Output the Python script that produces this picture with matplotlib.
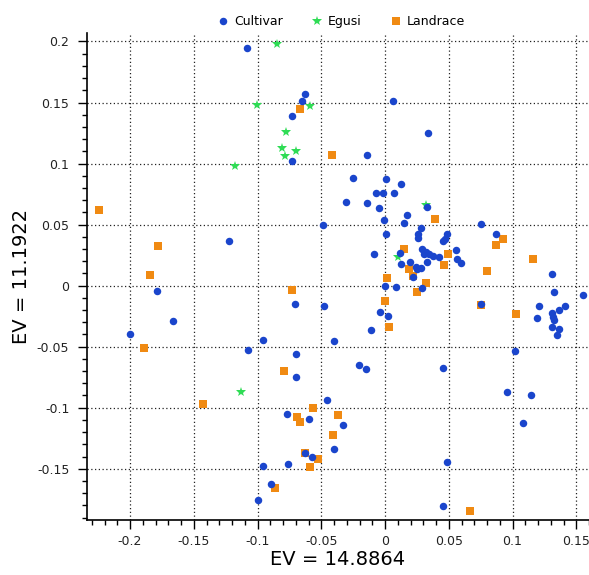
import matplotlib
matplotlib.use("Agg")
import matplotlib.pyplot as plt
from matplotlib.ticker import MultipleLocator, FuncFormatter
from matplotlib.lines import Line2D

# PCA scores (EV1 on x, EV2 on y)
cultivar_x = [-0.108, -0.0627, -0.0648, -0.0732, -0.0732, -0.0486, 0.006, 0.034, -0.0139, -0.0253,
              0.001, 0.0125, -0.0073, -0.0016, 0.0068, -0.0306, -0.0139, -0.0045, 0.033, 0.017,
              -0.0005, 0.015, 0.0755, 0.028, 0.0868, 0.026, 0.0256, 0.049, 0.047, 0.0457,
              0.001, 0.0554, 0.0565, 0.0596, 0.0115, 0.0293, 0.0322, 0.0306, 0.0343, 0.0379,
              0.0426, -0.0084, 0.0193, 0.033, 0.0125, 0.024, 0.0282, 0.0249, 0.0222, 0.131,
              0.0, 0.0086, 0.0288, 0.1328, 0.1555, -0.0478, 0.0755, 0.1207, 0.1414, 0.1367,
              0.131, 0.1315, 0.119, 0.1328, 0.1312, 0.1367, 0.1346, -0.0037, 0.0024, -0.011,
              -0.04, 0.1017, -0.0204, -0.0147, 0.0452, 0.0954, 0.1147, -0.0327, -0.0402, 0.1085,
              0.0489, 0.0452, -0.1221, -0.1785, -0.0703, -0.166, -0.2002, -0.0959, -0.1077, -0.0695,
              -0.0695, -0.0457, -0.0768, -0.0594, -0.0627, -0.057, -0.0959, -0.0758, -0.0891, -0.0993]
cultivar_y = [0.195, 0.157, 0.151, 0.139, 0.102, 0.050, 0.151, 0.125, 0.107, 0.088,
              0.087, 0.0836, 0.0757, 0.0757, 0.0757, 0.0689, 0.0678, 0.0637, 0.0645, 0.058,
              0.054, 0.051, 0.0508, 0.047, 0.042, 0.042, 0.0389, 0.042, 0.0385, 0.0366,
              0.042, 0.0293, 0.0219, 0.0183, 0.027, 0.0298, 0.0279, 0.0257, 0.0257, 0.0246,
              0.0233, 0.026, 0.0197, 0.0197, 0.0175, 0.0156, 0.0143, 0.0134, 0.0069, 0.0096,
              -0.0002, -0.001, -0.0021, -0.0054, -0.0074, -0.0169, -0.015, -0.0166, -0.0166, -0.0199,
              -0.0226, -0.0254, -0.0267, -0.0281, -0.0336, -0.0357, -0.0404, -0.0218, -0.0246, -0.0365,
              -0.0456, -0.0535, -0.065, -0.0683, -0.0672, -0.0869, -0.0898, -0.1144, -0.1341, -0.1123,
              -0.1448, -0.1803, 0.0369, -0.0041, -0.015, -0.0287, -0.0396, -0.0445, -0.0527, -0.0562,
              -0.0751, -0.0934, -0.1054, -0.1093, -0.1371, -0.1401, -0.1478, -0.1461, -0.1623, -0.1754]

egusi_x = [-0.0844, -0.059, -0.1004, -0.0779, -0.0808, -0.0695, -0.0787, -0.1174, 0.032, 0.010, -0.1127]
egusi_y = [0.198, 0.147, 0.148, 0.126, 0.113, 0.110, 0.106, 0.098, 0.066, 0.0238, -0.0869]

landrace_x = [-0.0669, -0.224, -0.0418, 0.0392, 0.0928, 0.0873, 0.015, 0.0497, 0.1163, 0.046,
              0.0188, 0.0797, 0.0016, 0.022, 0.032, 0.0248, 0.0, 0.0755, 0.1025, 0.0034,
              -0.178, -0.1845, -0.0727, -0.1892, -0.0792, -0.1429, -0.0565, -0.0371, -0.0688, -0.0669,
              -0.041, -0.0627, -0.0525, -0.0588, -0.0865, 0.0666]
landrace_y = [0.145, 0.062, 0.107, 0.0544, 0.0385, 0.0334, 0.0298, 0.0257, 0.0219, 0.017,
              0.0134, 0.012, 0.0066, 0.008, 0.0025, -0.0049, -0.0125, -0.0155, -0.0232, -0.0336,
              0.0325, 0.009, -0.0035, -0.0508, -0.0697, -0.0972, -0.1002, -0.106, -0.1079, -0.112,
              -0.1226, -0.137, -0.1418, -0.1483, -0.1661, -0.1847]

BLUE = "#1a45cc"
GREEN = "#2fdc55"
ORANGE = "#f08a12"

fig = plt.figure(figsize=(5.89, 5.75), dpi=100)
ax = fig.add_axes([0.1472, 0.0957, 0.8528, 0.8470])

# draw order: landrace, egusi, cultivar on top
ax.plot(landrace_x, landrace_y, "s", color=ORANGE, markersize=5.6, markeredgewidth=0, zorder=3)
ax.plot(egusi_x, egusi_y, "*", color=GREEN, markersize=7, markeredgewidth=0, zorder=4)
ax.plot(cultivar_x, cultivar_y, "o", color=BLUE, markersize=5.4, markeredgewidth=0, zorder=5)

ax.set_xlim(-0.234, 0.160)
ax.set_ylim(-0.192, 0.207)
ax.xaxis.set_major_locator(MultipleLocator(0.05))
ax.xaxis.set_minor_locator(MultipleLocator(0.01))
ax.yaxis.set_major_locator(MultipleLocator(0.05))
ax.yaxis.set_minor_locator(MultipleLocator(0.01))

fmt = FuncFormatter(lambda v, _: "0" if abs(v) < 1e-9 else f"{v:g}")
ax.xaxis.set_major_formatter(fmt)
ax.yaxis.set_major_formatter(fmt)

for s in ("top", "right"):
    ax.spines[s].set_visible(False)
for s in ("left", "bottom"):
    ax.spines[s].set_linewidth(1.2)
    ax.spines[s].set_color("black")

ax.tick_params(which="major", direction="out", length=6.5, width=1, labelsize=9,
               labelcolor="#222222")
ax.tick_params(which="minor", direction="out", length=3.5, width=1)
ax.tick_params(axis="y", which="major", pad=6)
ax.tick_params(axis="x", which="major", pad=4)

ax.grid(True, which="major", color="#222222", linestyle=(0, (1, 2)), linewidth=0.9)
ax.set_axisbelow(True)

ax.set_xlabel("EV = 14.8864", fontsize=14, labelpad=2)
ax.set_ylabel("EV = 11.1922", fontsize=14, labelpad=4)

handles = [
    Line2D([], [], marker="o", linestyle="", color=BLUE, markersize=5.4, markeredgewidth=0),
    Line2D([], [], marker="*", linestyle="", color=GREEN, markersize=7, markeredgewidth=0),
    Line2D([], [], marker="s", linestyle="", color=ORANGE, markersize=5.6, markeredgewidth=0),
]
fig.legend(handles, ["Cultivar", "Egusi", "Landrace"], loc="center",
           bbox_to_anchor=(0.579, 0.962), ncol=3, frameon=False, fontsize=9,
           handlelength=1.0, handletextpad=0.4, columnspacing=2.2)

fig.savefig("out.png", dpi=100)
